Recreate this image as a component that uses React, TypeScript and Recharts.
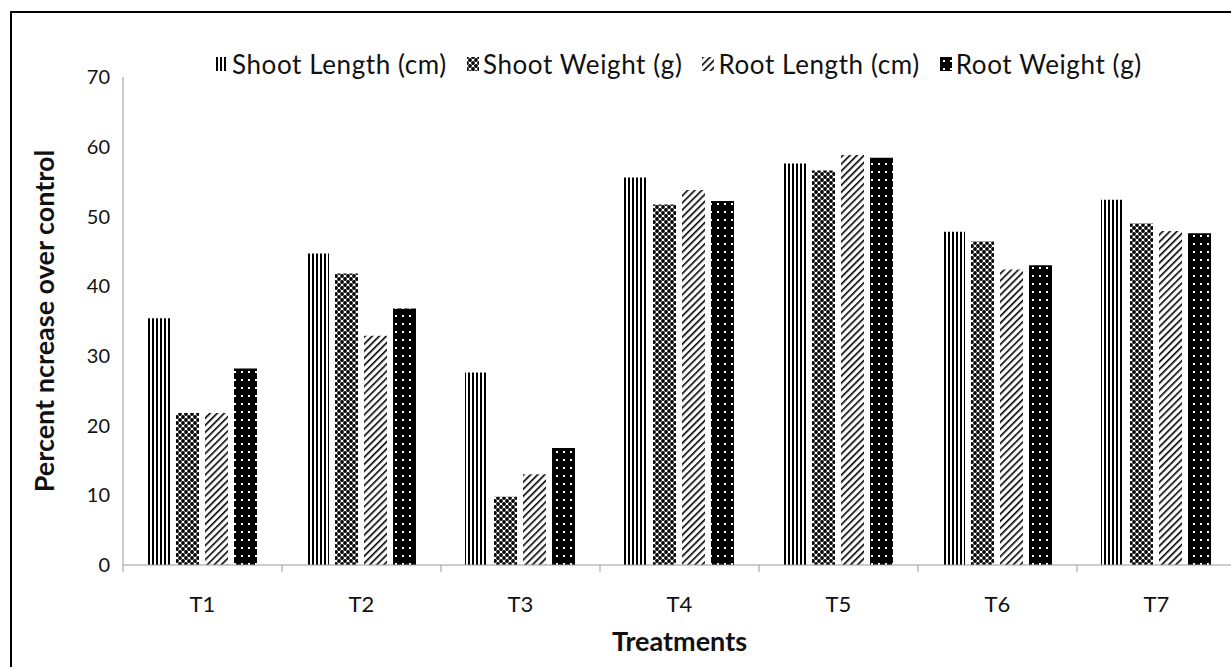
import React from "react";
import { Bar, BarChart, Label, Legend, XAxis, YAxis } from "recharts";

const treatments = ["T1", "T2", "T3", "T4", "T5", "T6", "T7"];
const shootLength = [35.4, 44.7, 27.6, 55.6, 57.6, 47.8, 52.4];
const shootWeight = [21.8, 41.8, 9.8, 51.7, 56.6, 46.4, 49.0];
const rootLength = [21.8, 32.9, 13.0, 53.8, 58.8, 42.4, 47.9];
const rootWeight = [28.2, 36.8, 16.8, 52.2, 58.4, 43.0, 47.6];
const yTicks = [0, 10, 20, 30, 40, 50, 60, 70];

const series = [
  { key: "shootLength", name: "Shoot Length (cm)", fill: "url(#pVert)" },
  { key: "shootWeight", name: "Shoot Weight (g)", fill: "url(#pCheck)" },
  { key: "rootLength", name: "Root Length (cm)", fill: "url(#pDiag)" },
  { key: "rootWeight", name: "Root Weight (g)", fill: "url(#pDots)" },
];

const data = treatments.map((t, i) => ({
  name: t,
  shootLength: shootLength[i],
  shootWeight: shootWeight[i],
  rootLength: rootLength[i],
  rootWeight: rootWeight[i],
}));

const FONT = "Lato, 'Open Sans', sans-serif";
const TEXT = "#111";
const AXIS = "#9a9a9a";
const X_TICK_MARGIN = 31;

function TreatmentTick(props: any) {
  const { x, y, payload, index, width, visibleTicksCount } = props;
  const count = visibleTicksCount || treatments.length;
  const band = (width || 1113) / count;
  const axisY = y - X_TICK_MARGIN;
  return (
    <g>
      <line x1={x - band / 2} x2={x - band / 2} y1={axisY} y2={axisY + 7} stroke={AXIS} />
      {index === count - 1 && (
        <line x1={x + band / 2} x2={x + band / 2} y1={axisY} y2={axisY + 7} stroke={AXIS} />
      )}
      <text x={x} y={y} dy="0.71em" textAnchor="middle" fill={TEXT} fontSize={22} fontFamily={FONT}>
        {payload.value}
      </text>
    </g>
  );
}

function PatternLegend() {
  return (
    <div
      style={{
        display: "flex",
        alignItems: "center",
        fontFamily: FONT,
        fontSize: 26,
        letterSpacing: 0.6,
        color: TEXT,
        whiteSpace: "nowrap",
      }}
    >
      {series.map((s) => (
        <div key={s.key} style={{ display: "flex", alignItems: "center", marginRight: 20 }}>
          <svg width={12} height={14} style={{ marginRight: 4 }}>
            <rect width={12} height={14} fill={s.fill} />
          </svg>
          <span>{s.name}</span>
        </div>
      ))}
    </div>
  );
}

export default function App() {
  return (
    <div style={{ position: "fixed", left: 0, top: 0, width: 1231, height: 667, overflow: "hidden", background: "#fff" }}>
      <div style={{ position: "absolute", left: 10, top: 11, width: 1300, height: 720, border: "2px solid #000" }} />
      <div style={{ position: "absolute", left: 0, top: 0 }}>
        <BarChart
          width={1260}
          height={667}
          data={data}
          margin={{ top: 77, right: 24, bottom: 0, left: 0 }}
          barCategoryGap={24}
          barGap={6}
        >
          <defs>
            <pattern id="pVert" width="4" height="4" patternUnits="userSpaceOnUse">
              <rect width="4" height="4" fill="#fff" />
              <rect x="0" width="2" height="4" fill="#000" />
            </pattern>
            <pattern id="pCheck" width="6" height="6" patternUnits="userSpaceOnUse">
              <rect width="6" height="6" fill="#fff" />
              <circle cx="0" cy="0" r="1.9" fill="#000" />
              <circle cx="6" cy="0" r="1.9" fill="#000" />
              <circle cx="0" cy="6" r="1.9" fill="#000" />
              <circle cx="6" cy="6" r="1.9" fill="#000" />
              <circle cx="3" cy="3" r="1.9" fill="#000" />
            </pattern>
            <pattern id="pDiag" width="5" height="5" patternUnits="userSpaceOnUse" patternTransform="rotate(45)">
              <rect width="5" height="5" fill="#fff" />
              <rect x="0" width="1.6" height="5" fill="#000" />
            </pattern>
            <pattern id="pDots" width="7" height="8" patternUnits="userSpaceOnUse">
              <rect width="7" height="8" fill="#000" />
              <rect x="3" y="3" width="2" height="2" fill="#fff" />
            </pattern>
          </defs>
          <XAxis
            dataKey="name"
            height={102}
            stroke={AXIS}
            tickLine={false}
            tickSize={0}
            tickMargin={X_TICK_MARGIN}
            tick={<TreatmentTick />}
            interval={0}
          >
            <Label
              value="Treatments"
              position="insideBottom"
              offset={16}
              style={{ fontFamily: FONT, fontSize: 27, fontWeight: 700, fill: TEXT }}
            />
          </XAxis>
          <YAxis
            width={123}
            domain={[0, 70]}
            ticks={yTicks}
            interval={0}
            stroke={AXIS}
            tickLine={false}
            tickSize={0}
            tickMargin={13}
            tick={{ fill: TEXT, fontSize: 20, fontFamily: FONT }}
          >
            <Label
              value="Percent ncrease over control"
              angle={-90}
              position="insideLeft"
              offset={44}
              style={{ textAnchor: "middle", fontFamily: FONT, fontSize: 27, fontWeight: 700, fill: TEXT }}
            />
          </YAxis>
          <Legend
            verticalAlign="middle"
            align="center"
            content={<PatternLegend />}
            wrapperStyle={{ top: 48, left: 216, width: "auto" }}
          />
          {series.map((s) => (
            <Bar key={s.key} dataKey={s.key} name={s.name} fill={s.fill} isAnimationActive={false} />
          ))}
        </BarChart>
      </div>
    </div>
  );
}
